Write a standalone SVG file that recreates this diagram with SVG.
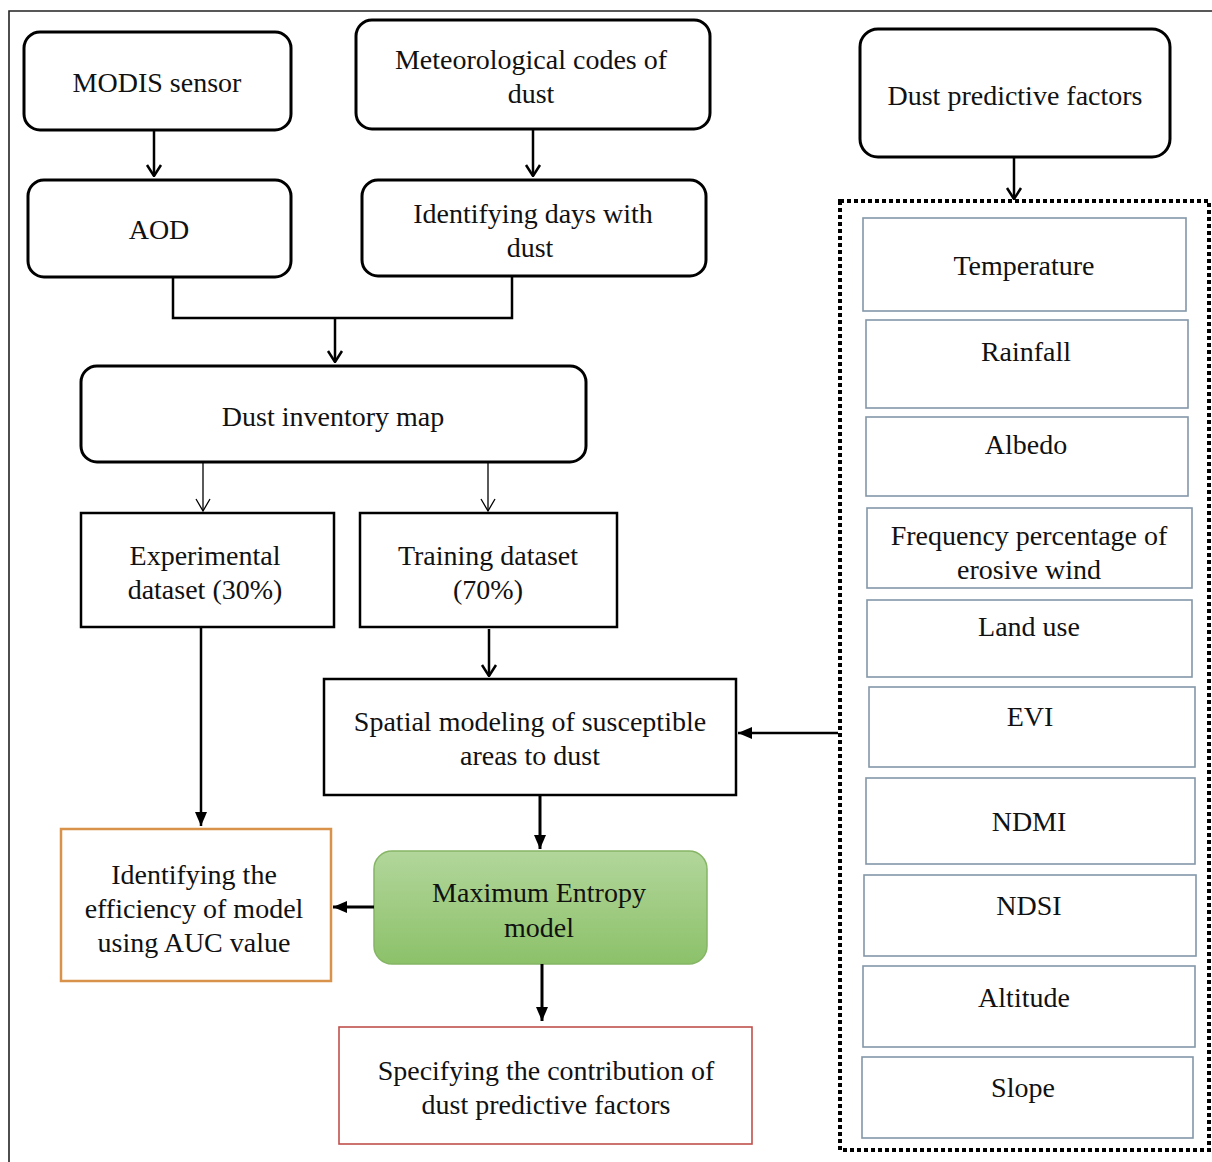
<svg xmlns="http://www.w3.org/2000/svg" width="1212" height="1162" viewBox="0 0 1212 1162">
<defs>
<marker id="vopen" viewBox="0 0 20 20" refX="19" refY="10" markerWidth="20" markerHeight="20" markerUnits="userSpaceOnUse" orient="auto">
<path d="M8,3 L19,10 L8,17" fill="none" stroke="#000" stroke-width="2.5"/>
</marker>
<marker id="vthin" viewBox="0 0 20 20" refX="19" refY="10" markerWidth="20" markerHeight="20" markerUnits="userSpaceOnUse" orient="auto">
<path d="M7,3 L19,10 L7,17" fill="none" stroke="#000" stroke-width="1.3"/>
</marker>
<marker id="tri" viewBox="0 0 16 16" refX="14" refY="8" markerWidth="16" markerHeight="16" markerUnits="userSpaceOnUse" orient="auto">
<path d="M0,2 L14,8 L0,14 Z" fill="#000"/>
</marker>
<linearGradient id="green" x1="0" y1="0" x2="0" y2="1">
<stop offset="0" stop-color="#b2d69b"/>
<stop offset="1" stop-color="#8cc169"/>
</linearGradient>
</defs>
<style>
text{font-family:"Liberation Serif","Times New Roman",serif;font-size:28px;fill:#111;text-anchor:middle}
.rb{fill:#fff;stroke:#000;stroke-width:3}
.sq{fill:#fff;stroke:#000;stroke-width:2.5}
.fb{fill:#fff;stroke:#8397a8;stroke-width:1.6}
.c{fill:none;stroke:#000;stroke-width:2.5}
.ct{fill:none;stroke:#000;stroke-width:1.3}
.cb{fill:none;stroke:#000;stroke-width:3}
</style>
<rect width="1212" height="1162" fill="#fff"/>
<path d="M9,1162 V11 H1212" fill="none" stroke="#222" stroke-width="1.6"/>

<g id="modis"><rect class="rb" x="24" y="32" width="267" height="98" rx="16"/><text x="157" y="92">MODIS sensor</text></g>
<g id="meteo"><rect class="rb" x="356" y="20" width="354" height="109" rx="16"/><text x="531" y="69">Meteorological codes of</text><text x="531" y="103">dust</text></g>
<g id="factors"><rect class="rb" x="860" y="29" width="310" height="128" rx="18"/><text x="1015" y="105">Dust predictive factors</text></g>
<g id="aod"><rect class="rb" x="28" y="180" width="263" height="97" rx="16"/><text x="159" y="239">AOD</text></g>
<g id="days"><rect class="rb" x="362" y="180" width="344" height="96" rx="16"/><text x="533" y="223">Identifying days with</text><text x="530" y="257">dust</text></g>
<g id="inventory"><rect class="rb" x="81" y="366" width="505" height="96" rx="16"/><text x="333" y="426">Dust inventory map</text></g>
<g id="experimental"><rect class="sq" x="81" y="513" width="253" height="114"/><text x="205" y="565">Experimental</text><text x="205" y="599">dataset (30%)</text></g>
<g id="training"><rect class="sq" x="360" y="513" width="257" height="114"/><text x="488" y="565">Training dataset</text><text x="488" y="599">(70%)</text></g>
<g id="spatial"><rect class="sq" x="324" y="679" width="412" height="116"/><text x="530" y="731">Spatial modeling of susceptible</text><text x="530" y="765">areas to dust</text></g>
<g id="efficiency"><rect x="61" y="829" width="270" height="152" fill="#fff" stroke="#d9924a" stroke-width="2.5"/><text x="194" y="884">Identifying the</text><text x="194" y="918">efficiency of model</text><text x="194" y="952">using AUC value</text></g>
<g id="maxent"><rect x="374" y="851" width="333" height="113" rx="18" fill="url(#green)" stroke="#85b565" stroke-width="1.5"/><text x="539" y="902">Maximum Entropy</text><text x="539" y="937">model</text></g>
<g id="contribution"><rect x="339" y="1027" width="413" height="117" fill="#fff" stroke="#c0504d" stroke-width="1.6"/><text x="546" y="1080">Specifying the contribution of</text><text x="546" y="1114">dust predictive factors</text></g>

<g id="factor-group">
<rect x="840" y="201" width="369" height="949" fill="none" stroke="#000" stroke-width="4" stroke-dasharray="4 3"/>
<g id="temperature"><rect class="fb" x="863" y="218" width="323" height="93"/><text x="1024" y="275">Temperature</text></g>
<g id="rainfall"><rect class="fb" x="866" y="320" width="322" height="88"/><text x="1026" y="361">Rainfall</text></g>
<g id="albedo"><rect class="fb" x="866" y="417" width="322" height="79"/><text x="1026" y="454">Albedo</text></g>
<g id="wind"><rect class="fb" x="867" y="508" width="325" height="80"/><text x="1029" y="545">Frequency percentage of</text><text x="1029" y="579">erosive wind</text></g>
<g id="landuse"><rect class="fb" x="867" y="600" width="325" height="77"/><text x="1029" y="636">Land use</text></g>
<g id="evi"><rect class="fb" x="869" y="687" width="326" height="80"/><text x="1030" y="726">EVI</text></g>
<g id="ndmi"><rect class="fb" x="866" y="778" width="329" height="86"/><text x="1029" y="831">NDMI</text></g>
<g id="ndsi"><rect class="fb" x="864" y="875" width="332" height="81"/><text x="1029" y="915">NDSI</text></g>
<g id="altitude"><rect class="fb" x="863" y="966" width="332" height="81"/><text x="1024" y="1007">Altitude</text></g>
<g id="slope"><rect class="fb" x="862" y="1057" width="331" height="81"/><text x="1023" y="1097">Slope</text></g>
</g>

<g id="connectors">
<path class="c" d="M154,130 V176" marker-end="url(#vopen)"/>
<path class="c" d="M533,129 V176" marker-end="url(#vopen)"/>
<path class="c" d="M1014,157 V199" marker-end="url(#vopen)"/>
<path class="c" d="M173,277 V318 H512 V276"/>
<path class="c" d="M335,318 V362" marker-end="url(#vopen)"/>
<path class="ct" d="M203,462 V511" marker-end="url(#vthin)"/>
<path class="ct" d="M488,462 V511" marker-end="url(#vthin)"/>
<path class="c" d="M489,629 V676" marker-end="url(#vopen)"/>
<path class="c" d="M838,733 H738" marker-end="url(#tri)"/>
<path class="c" d="M201,627 V826" marker-end="url(#tri)"/>
<path class="cb" d="M540,795 V849" marker-end="url(#tri)"/>
<path class="cb" d="M374,907 H333" marker-end="url(#tri)"/>
<path class="cb" d="M542,964 V1021" marker-end="url(#tri)"/>
</g>
</svg>
